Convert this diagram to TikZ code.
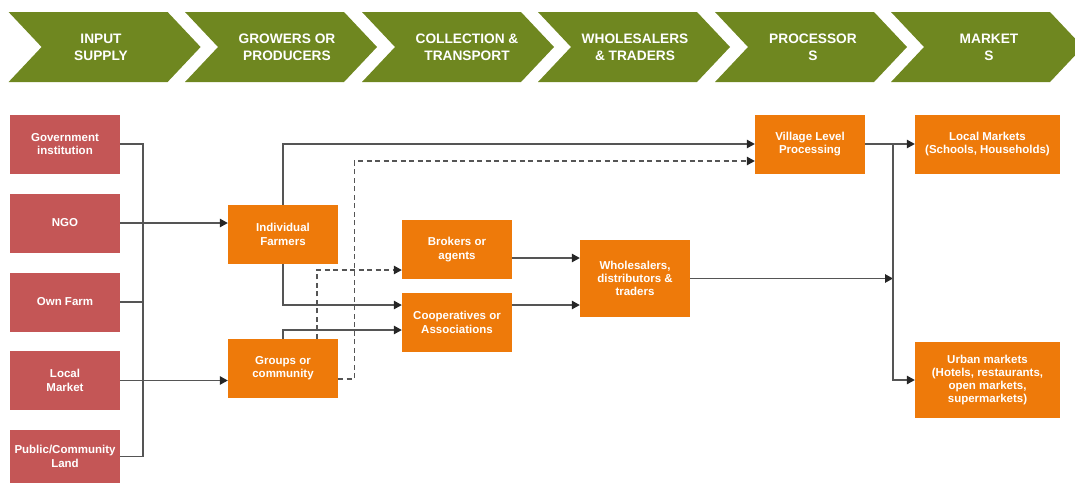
\documentclass[tikz,border=0pt]{standalone}
\usepackage{fontspec}
\setmainfont{Liberation Sans}
\usetikzlibrary{arrows.meta}

\definecolor{chevgreen}{RGB}{111,135,32}
\definecolor{inputred}{RGB}{196,86,86}
\definecolor{actororange}{RGB}{238,122,10}
\definecolor{linegray}{RGB}{85,85,85}

\begin{document}
\begin{tikzpicture}[x=1pt, y=-1pt,
    redbox/.style={rectangle, fill=inputred, text=white, minimum width=110pt, minimum height=59pt,
      inner sep=0pt, align=center, font=\fontsize{11.5}{13.3}\selectfont\bfseries},
    orangebox/.style={redbox, fill=actororange},
    chevlabel/.style={text=white, align=center, font=\fontsize{13.7}{16.7}\selectfont\bfseries},
    link/.style={draw=linegray, line width=1.3pt},
    arr/.style={link, -{Triangle[length=8pt, width=8.5pt, color=black!85]}},
    dashedlink/.style={dash pattern=on 5pt off 3.5pt}]
    \useasboundingbox (0,0) rectangle (1075,483);

    % stages
    \foreach \i/\xa/\xt/\lbl in {1/8.6/101/{INPUT\\SUPPLY}, 2/185/287/{GROWERS OR\\PRODUCERS},
        3/362/467/{COLLECTION \&\\TRANSPORT}, 4/538/635/{WHOLESALERS\\\& TRADERS},
        5/715/813/{PROCESSOR\\S}, 6/891/989/{MARKET\\S}} {
      \fill[chevgreen] (\xa,12) -- ++(159,0) -- ++(33,35) -- ++(-33,35) -- ++(-159,0) -- ++(33,-35) -- cycle;
      \node[chevlabel] (chev\i) at (\xt,47.5) {\lbl};
    }

    % inputs
    \node[redbox] (gov) at (65,144) {Government\\institution};
    \node[redbox] (ngo) at (65,223) {NGO};
    \node[redbox] (ownfarm) at (65,302) {Own Farm};
    \node[redbox] (localmkt) at (65,380.5) {Local\\Market};
    \node[redbox, minimum height=53pt] (publand) at (65,456.5) {Public/Community\\Land};

    % actors
    \node[orangebox] (indiv) at (283,234.5) {Individual\\Farmers};
    \node[orangebox] (groups) at (283,368.5) {Groups or\\community};
    \node[orangebox] (brokers) at (457,249.5) {Brokers or\\agents};
    \node[orangebox] (coops) at (457,322.5) {Cooperatives or\\Associations};
    \node[orangebox, minimum height=77pt] (whole) at (635,278.5) {Wholesalers,\\distributors \&\\traders};
    \node[orangebox] (village) at (810,144) {Village Level\\Processing};
    \node[orangebox, minimum width=145pt] (localmkts) at (987.5,144) {Local Markets\\(Schools, Households)};
    \node[orangebox, minimum width=145pt, minimum height=76pt] (urban) at (987.5,380)
      {Urban markets\\(Hotels, restaurants,\\open markets,\\supermarkets)};

    % input lines
    \coordinate (busin) at (143,144);
    \draw[link] (gov.east) -- (busin) -- (busin |- publand.east) -- (publand.east);
    \draw[link] (ownfarm.east) -- (ownfarm.east -| busin);
    \draw[arr] (ngo.east) -- (ngo.east -| indiv.west);
    \draw[arr] (localmkt.east) -- (localmkt.east -| groups.west);

    % producers
    \draw[arr] (indiv.north) |- (village.west);
    \draw[arr] (indiv.south) |- ([yshift=17.5pt]coops.west);
    \draw[arr] (groups.north) |- ([yshift=-7.5pt]coops.west);
    \draw[arr, dashedlink] ([yshift=-10.5pt]groups.east) -- ++(16,0) |- ([yshift=-17pt]village.west);
    \draw[arr, dashedlink] ([xshift=34pt]groups.north) |- ([yshift=-20.5pt]brokers.west);

    % traders
    \draw[arr] ([yshift=-8.5pt]brokers.east) -- ([yshift=20.5pt]whole.west);
    \draw[arr] ([yshift=17.5pt]coops.east) -- ([yshift=-26.5pt]whole.west);

    % markets
    \coordinate (busout) at (893,144);
    \draw[arr] (whole.east) -- (whole.east -| busout);
    \draw[arr] (village.east) -- (localmkts.west);
    \draw[arr] (busout) |- (urban.west);
  \end{tikzpicture}
\end{document}
